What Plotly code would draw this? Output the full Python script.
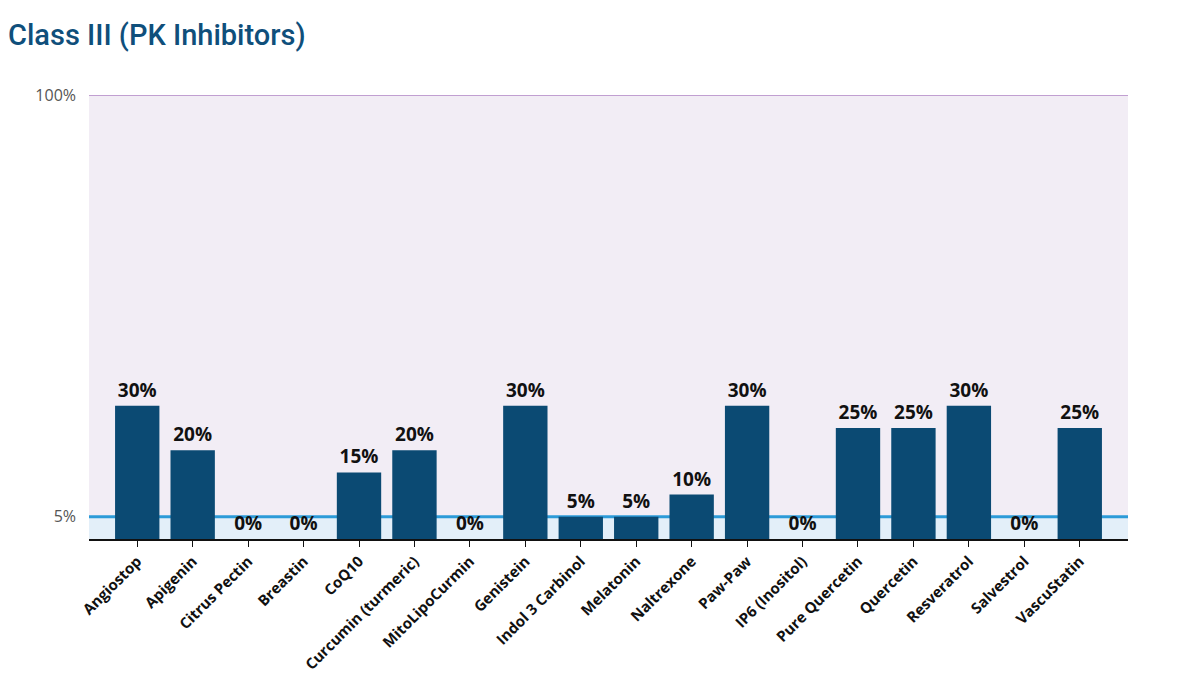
import plotly.graph_objects as go

# 数据
names = ['Angiostop', 'Apigenin', 'Citrus Pectin', 'Breastin', 'CoQ10',
         'Curcumin (turmeric)', 'MitoLipoCurmin', 'Genistein', 'Indol 3 Carbinol',
         'Melatonin', 'Naltrexone', 'Paw-Paw', 'IP6 (Inositol)', 'Pure Quercetin',
         'Quercetin', 'Resveratrol', 'Salvestrol', 'VascuStatin']
pcts = [30, 20, 0, 0, 15, 20, 0, 30, 5, 5, 10, 30, 0, 25, 25, 30, 0, 25]
y_ticks = [5, 100]
y_labels = ['5%', '100%']

fig = go.Figure()
fig.add_trace(go.Bar(
    x=names, y=pcts,
    width=0.8,
    marker=dict(color='#0b4a73', line=dict(width=0)),
    text=[f'{v}%' for v in pcts],
    textposition='outside',
    cliponaxis=False,
    textfont=dict(family='Open Sans', size=19, color='#111111', weight='bold'),
))

# 背景色带
fig.add_shape(type='rect', xref='paper', yref='y', x0=0, x1=1, y0=0, y1=5,
              fillcolor='#e3eff9', line_width=0, layer='below')
fig.add_shape(type='line', xref='paper', yref='y', x0=0, x1=1, y0=5, y1=5,
              line=dict(color='#2d9bd8', width=3), layer='below')
fig.add_shape(type='line', xref='paper', yref='y', x0=0, x1=1, y0=100, y1=100,
              line=dict(color='#b084c4', width=1.5), layer='below')

# 页面自带 8px 边距，所以尺寸稍微缩小
fig.update_layout(
    width=1164, height=665,
    margin=dict(l=81, r=44, t=87, b=134),
    paper_bgcolor='white',
    plot_bgcolor='#f2edf5',
    showlegend=False,
    title=dict(text='Class III (PK Inhibitors)', xref='container', x=0, xanchor='left',
               yref='container', y=0.96, yanchor='middle',
               font=dict(family='Roboto, Open Sans', size=29,
                         color='#0f4f7b', weight=500)),
    font=dict(family='Open Sans'),
)
fig.update_xaxes(
    range=[-0.87, 17.87],
    tickangle=-45,
    tickfont=dict(family='Open Sans', size=15, color='#111111', weight='bold'),
    showline=True, linecolor='#111111', linewidth=1.5,
    ticks='outside', ticklen=6, tickcolor='#111111',
    showgrid=False, automargin=False,
)
fig.update_yaxes(
    range=[0, 100],
    tickvals=y_ticks, ticktext=y_labels,
    tickfont=dict(family='Open Sans', size=16, color='#555555'),
    ticklabelstandoff=12,
    showgrid=False, zeroline=False, showline=False, automargin=False,
)

fig.write_html('out.html')
